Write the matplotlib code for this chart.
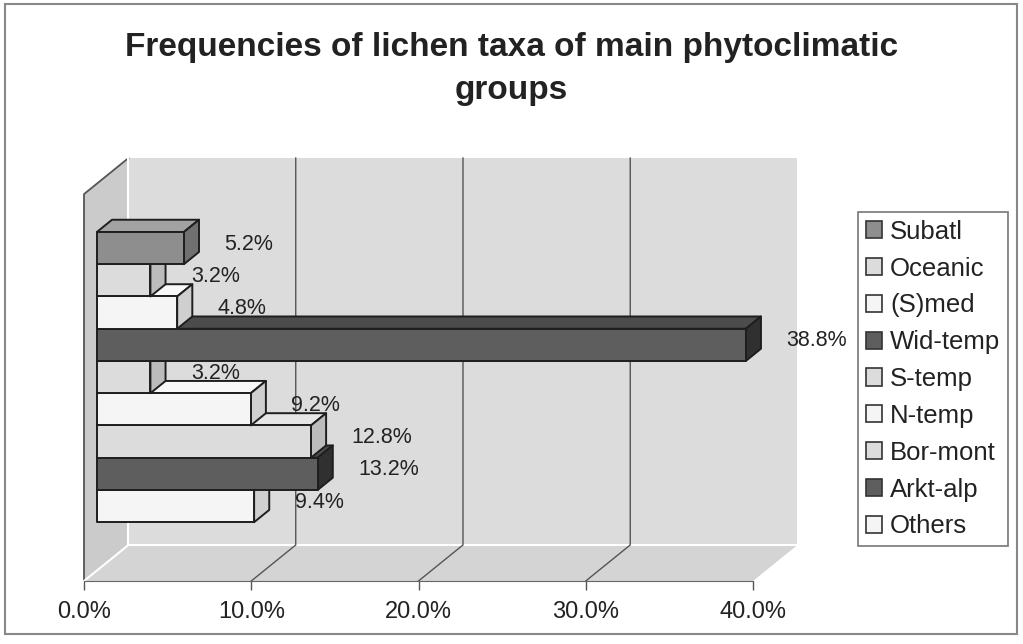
import matplotlib
matplotlib.use("Agg")
import matplotlib.pyplot as plt
from matplotlib.patches import Polygon, Patch, Rectangle

plt.rcParams['font.family'] = ['Liberation Sans', 'DejaVu Sans']

# data, top to bottom as in the chart
groups = ['Subatl', 'Oceanic', '(S)med', 'Wid-temp', 'S-temp',
          'N-temp', 'Bor-mont', 'Arkt-alp', 'Others']
share = [5.2, 3.2, 4.8, 38.8, 3.2, 9.2, 12.8, 13.2, 9.4]
xticks = [0, 10, 20, 30, 40]
title = "Frequencies of lichen taxa of main phytoclimatic\ngroups"

# grey shades: (front, top, side)
shades = {
    'mid':   ('#8e8e8e', '#a2a2a2', '#707070'),
    'light': ('#dcdcdc', '#e6e6e6', '#bcbcbc'),
    'white': ('#f5f5f5', '#f8f8f8', '#cfcfcf'),
    'dark':  ('#5e5e5e', '#4c4c4c', '#303030'),
}
bar_shade = ['mid', 'light', 'white', 'dark', 'light',
             'white', 'light', 'dark', 'white']

# oblique depth: shift per unit depth in data coords
DX, DY = 2.66, -1.118
D0, D1 = 0.29, 0.63   # bar front / back depth
UTOP, UBOT = -2.0, 10.0
XMAX = 40


def pt(x, u, d):
    return (x + DX * d, u + DY * d)


fig = plt.figure(figsize=(10.23, 6.44), dpi=100)
fig.patch.set_facecolor('white')
ax = fig.add_axes([84 / 1023, 1 - 581 / 644, 669 / 1023, (581 - 129.6) / 644])
ax.set_xlim(0, XMAX)
ax.set_ylim(UBOT, -4)
ax.patch.set_visible(False)

# walls and floor
back = Polygon([pt(0, UTOP, 1), pt(XMAX, UTOP, 1), pt(XMAX, UBOT, 1), pt(0, UBOT, 1)],
               closed=True, fc='#dcdcdc', ec='none', zorder=1, clip_on=False)
left = Polygon([pt(0, UTOP, 0), pt(0, UBOT, 0), pt(0, UBOT, 1), pt(0, UTOP, 1)],
               closed=True, fc='#cbcbcb', ec='none', zorder=1, clip_on=False)
floor = Polygon([pt(0, UBOT, 0), pt(XMAX, UBOT, 0), pt(XMAX, UBOT, 1), pt(0, UBOT, 1)],
                closed=True, fc='#d4d4d4', ec='none', zorder=1, clip_on=False)
for p in (back, left, floor):
    ax.add_patch(p)

# outline of the left wall and light seams
seam = [pt(0, UBOT, 0), pt(0, UTOP, 0), pt(0, UTOP, 1)]
ax.plot([s[0] for s in seam], [s[1] for s in seam], color='#555555', lw=1.3,
        zorder=2, clip_on=False)
for a, b in [(pt(0, UTOP, 1), pt(0, UBOT, 1)), (pt(0, UBOT, 1), pt(XMAX, UBOT, 1)),
             (pt(0, UBOT, 1), pt(0, UBOT, 0))]:
    ax.plot([a[0], b[0]], [a[1], b[1]], color='white', lw=1.5, zorder=2, clip_on=False)

# gridlines on back wall + floor
for g in xticks[1:-1]:
    line = [pt(g, UTOP, 1), pt(g, UBOT, 1), pt(g, UBOT, 0)]
    ax.plot([s[0] for s in line], [s[1] for s in line], color='#555555', lw=1,
            zorder=2, clip_on=False)

# bars, drawn bottom first so upper bars sit in front of lower bars' top faces
for i in range(len(groups) - 1, -1, -1):
    v = share[i]
    fc, tc, sc = shades[bar_shade[i]]
    z = 20 - i
    top, bot = i - 0.5, i + 0.5
    faces = [
        ([pt(0, top, D0), pt(v, top, D0), pt(v, top, D1), pt(0, top, D1)], tc),
        ([pt(v, top, D0), pt(v, bot, D0), pt(v, bot, D1), pt(v, top, D1)], sc),
        ([pt(0, top, D0), pt(v, top, D0), pt(v, bot, D0), pt(0, bot, D0)], fc),
    ]
    for verts, c in faces:
        ax.add_patch(Polygon(verts, closed=True, fc=c, ec='#1e1e1e', lw=1.4,
                             joinstyle='round', zorder=z, clip_on=False))

# value labels sit behind the bars
for i, v in enumerate(share):
    ax.text(v + 3.2, i - 0.45, f'{v:.1f}%', ha='left', va='center', fontsize=15.5,
            color='#222222', zorder=3, clip_on=False)

# axis
for s in ('top', 'right', 'left'):
    ax.spines[s].set_visible(False)
ax.spines['bottom'].set_color('#666666')
ax.spines['bottom'].set_zorder(2)
ax.set_yticks([])
ax.set_xticks(xticks)
ax.set_xticklabels([f'{t:.1f}%' for t in xticks])
ax.tick_params(axis='x', direction='out', length=6.5, width=1, color='#555555',
               pad=8, labelsize=17, labelcolor='#222222')

fig.text(0.5, 1 - 69 / 644, title, ha='center', va='center', fontsize=24,
         fontweight='bold', color='#222222', linespacing=1.5)

handles = [Patch(facecolor=shades[s][0], edgecolor='#333333', lw=1.2) for s in bar_shade]
leg = fig.legend(handles, groups, loc='upper left',
                 bbox_to_anchor=(858 / 1023, 1 - 212 / 644), borderaxespad=0,
                 fontsize=18.5, frameon=True, fancybox=False, handlelength=0.65,
                 handleheight=0.65, handletextpad=0.3, labelspacing=0.5,
                 borderpad=0.3, labelcolor='#222222')
leg.get_frame().set_edgecolor('#555555')
leg.get_frame().set_linewidth(1.2)

# chart border
fig.add_artist(Rectangle((5 / 1023, 1 - 634 / 644), 1012 / 1023, 630 / 644,
                         transform=fig.transFigure, fill=False, ec='#888888', lw=1.5))

fig.savefig('out.png', dpi=100)
